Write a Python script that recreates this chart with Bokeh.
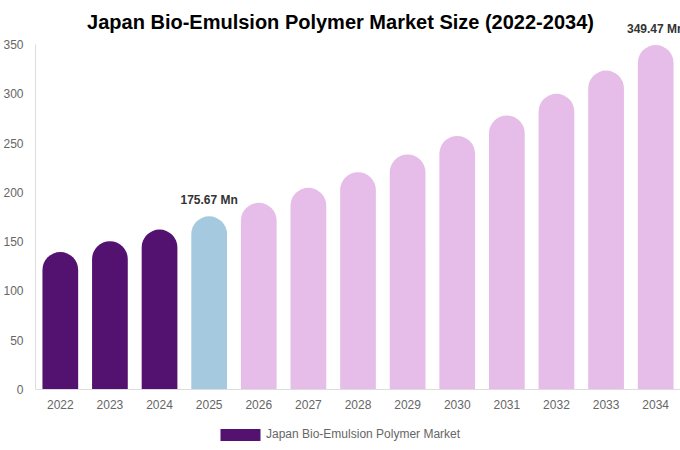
from bokeh.plotting import figure
from bokeh.models import (ColumnDataSource, LabelSet, Label, Legend, LegendItem,
                          FixedTicker, Range1d, FactorRange)
from bokeh.core.properties import value
from bokeh.embed import file_html
from bokeh.resources import INLINE

years = ["2022", "2023", "2024", "2025", "2026", "2027", "2028",
         "2029", "2030", "2031", "2032", "2033", "2034"]
values = [139.4, 150.5, 162.3, 175.67, 189.4, 204.6, 220.4,
          238.4, 257.3, 278.0, 300.0, 323.6, 349.47]
colors = ["#541270", "#541270", "#541270", "#a5cadf"] + ["#e6bde8"] * 9
yticks = [0, 50, 100, 150, 200, 250, 300, 350]
ann_years = ["2025", "2034"]
ann_values = [175.67, 349.47]
ann_texts = ["175.67 Mn", "349.47 Mn"]
series_name = "Japan Bio-Emulsion Polymer Market"
title_text = "Japan Bio-Emulsion Polymer Market Size (2022-2034)"

FONT = "Liberation Sans"
W, H = 680, 450
LEFT = 35
TOP_PX, BOTTOM_PX = 44, 389          # pixel rows of 350 and 0
ppu = (BOTTOM_PX - TOP_PX) / 350.0
y_end = 350 + TOP_PX / ppu
y_start = -(H - BOTTOM_PX) / ppu

p = figure(width=W, height=H, x_range=FactorRange(*years), y_range=Range1d(y_start, y_end),
           output_backend="svg", toolbar_location=None,
           min_border_left=LEFT, min_border_right=0, min_border_top=0, min_border_bottom=0)

src = ColumnDataSource(dict(year=years, value=values, color=colors))
r = p.vbar(x="year", top="value", width=0.72, source=src, fill_color="color",
           line_color=None, border_radius=(18, 18, 0, 0))

ann_src = ColumnDataSource(dict(year=ann_years, value=ann_values, text=ann_texts))
labels = LabelSet(x="year", y="value", text="text", source=ann_src, y_offset=12,
                  text_align="center", text_baseline="alphabetic",
                  text_font=value(FONT), text_font_size=value("12px"),
                  text_font_style="bold", text_color="#333333")
p.add_layout(labels)

title = Label(x=W / 2 - LEFT, y=H - 21, x_units="screen", y_units="screen",
              text=title_text, text_align="center", text_baseline="middle",
              text_font=FONT, text_font_size="20px", text_font_style="bold",
              text_color="#000000")
p.add_layout(title)

p.xgrid.grid_line_color = None
p.ygrid.grid_line_color = None
p.outline_line_color = None

for ax in (p.xaxis, p.yaxis):
    ax.axis_line_color = "#dddddd"
    ax.major_tick_line_color = None
    ax.minor_tick_line_color = None
    ax.major_tick_out = 0
    ax.major_tick_in = 0
    ax.major_label_text_font = FONT
    ax.major_label_text_font_size = "12px"
    ax.major_label_text_color = "#666666"

p.yaxis.ticker = FixedTicker(ticks=yticks)
p.yaxis.bounds = (0, 350)
p.yaxis.major_label_standoff = 12
p.xaxis.fixed_location = 0
p.xaxis.major_label_standoff = 10

legend = Legend(items=[LegendItem(label=series_name, renderers=[r], index=0)],
                location=(215 - LEFT, 8.5), orientation="horizontal",
                glyph_width=50, glyph_height=15, label_height=15, label_standoff=1,
                border_line_color=None,
                label_text_font=FONT, label_text_font_size="12px",
                label_text_color="#666666", padding=0, margin=0,
                background_fill_alpha=0)
p.add_layout(legend, "center")

open("out.html", "w").write(file_html(p, INLINE))
